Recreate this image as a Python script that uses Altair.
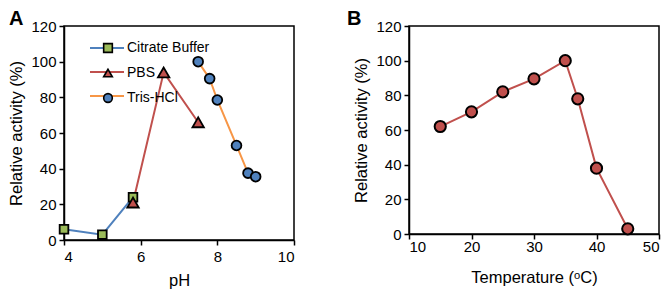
import altair as alt
import pandas as pd

# Panel A data
series_names = ["Citrate Buffer", "PBS", "Tris-HCl"]
ph_citrate = [4.0, 5.0, 5.8]
act_citrate = [6.0, 3.0, 24.0]
ph_pbs = [5.8, 6.6, 7.5]
act_pbs = [21.0, 94.0, 66.0]
ph_tris = [7.5, 7.8, 8.0, 8.5, 8.8, 9.0]
act_tris = [100.0, 90.5, 78.5, 53.0, 37.5, 35.5]

# Panel B data
temp = [15, 20, 25, 30, 35, 37, 40, 45]
act_temp = [62.0, 70.5, 82.0, 89.5, 100.0, 78.0, 38.0, 3.0]

line_colors = ["#4f81bd", "#c0504d", "#f79646"]
marker_fills = ["#9bbb59", "#c0504d", "#4f81bd"]
marker_edges = ["black", "black", "black"]
marker_shapes = ["square", "triangle-up", "circle"]
marker_sizes = [75, 130, 95]

rows = []
for name, xs, ys in zip(series_names, [ph_citrate, ph_pbs, ph_tris], [act_citrate, act_pbs, act_tris]):
    for i, (x, y) in enumerate(zip(xs, ys)):
        rows.append({"series": name, "buffer": name, "pH": x, "act": y, "order": i})
dfA = pd.DataFrame(rows)
dfB = pd.DataFrame({"temp": temp, "act": act_temp})

FONT = "Liberation Sans"

yA = alt.Y("act:Q", scale=alt.Scale(domain=[0, 120], nice=False),
           axis=alt.Axis(values=[0, 20, 40, 60, 80, 100, 120], title="Relative activity (%)"))
xA = alt.X("pH:Q", scale=alt.Scale(domain=[4, 10], nice=False),
           axis=alt.Axis(values=[4, 6, 8, 10], title="pH", labelPadding=4, titlePadding=8))

pt_legend = alt.Legend(title=None, orient="none", legendX=37, legendY=15,
                       symbolSize=75, symbolStrokeWidth=1.6, symbolOpacity=1,
                       labelFontSize=14, labelOffset=12, rowPadding=10,
                       labelFont=FONT)

linesA = alt.Chart(dfA).mark_line(strokeWidth=2).encode(
    x=xA, y=yA, detail="series:N", order="order:Q",
    color=alt.Color("buffer:N", sort=series_names,
                    scale=alt.Scale(range=line_colors),
                    legend=alt.Legend(title=None, orient="none", legendX=36, legendY=15,
                                      symbolType="M-3.4,0H3.4", symbolSize=100,
                                      symbolStrokeWidth=2, labelExpr="''",
                                      labelFontSize=14, rowPadding=10)),
)

point_layers = []
for name, sz in zip(series_names, marker_sizes):
    point_layers.append(
        alt.Chart(dfA).transform_filter(alt.datum.series == name)
        .mark_point(filled=True, size=sz, strokeWidth=1.8, opacity=1)
        .encode(
            x=xA, y=yA,
            fill=alt.Fill("series:N", scale=alt.Scale(domain=series_names, range=marker_fills),
                          legend=pt_legend),
            stroke=alt.Stroke("series:N", scale=alt.Scale(domain=series_names, range=marker_edges),
                              legend=pt_legend),
            shape=alt.Shape("series:N", scale=alt.Scale(domain=series_names, range=marker_shapes),
                            legend=pt_legend),
        )
    )

panelA = alt.layer(linesA, *point_layers).properties(
    width=230, height=214,
    title=alt.TitleParams("A", anchor="start", frame="group", dx=-55, fontSize=20,
                          fontWeight="bold", font=FONT, offset=-10),
)

yB = alt.Y("act:Q", scale=alt.Scale(domain=[0, 120], nice=False),
           axis=alt.Axis(values=[0, 20, 40, 60, 80, 100, 120], title="Relative activity (%)"))
xB = alt.X("temp:Q", scale=alt.Scale(domain=[10, 50], nice=False),
           axis=alt.Axis(values=[10, 20, 30, 40, 50], title="Temperature (ᵒC)",
                         labelPadding=0, titlePadding=15))
lineB = alt.Chart(dfB).mark_line(strokeWidth=2, color="#c0504d").encode(x=xB, y=yB)
pointsB = alt.Chart(dfB).mark_point(filled=True, size=125, fill="#c0504d", stroke="black",
                                    strokeWidth=2, opacity=1).encode(x=xB, y=yB)
panelB = alt.layer(lineB, pointsB).properties(
    width=250, height=208,
    title=alt.TitleParams("B", anchor="start", frame="group", dx=-62, fontSize=20,
                          fontWeight="bold", font=FONT, offset=-10),
)

chart = alt.hconcat(panelA, panelB, spacing=50).resolve_scale(
    color="independent", fill="independent", shape="independent", stroke="independent"
).configure(padding=0, font=FONT).configure_view(
    stroke="black", strokeWidth=1.5
).configure_axis(
    grid=False, domainColor="black", domainWidth=1.5, tickColor="black", tickSize=5,
    tickWidth=1.5, labelFontSize=15, labelColor="black", titleFontSize=16.5,
    titleColor="black", titleFontWeight="normal", labelFont=FONT, titleFont=FONT,
    labelPadding=3,
).configure_axisY(titlePadding=6).configure_legend(
    labelFont=FONT, labelColor="black"
)

chart.save("out.html", embed_options={"renderer": "svg", "actions": False})
